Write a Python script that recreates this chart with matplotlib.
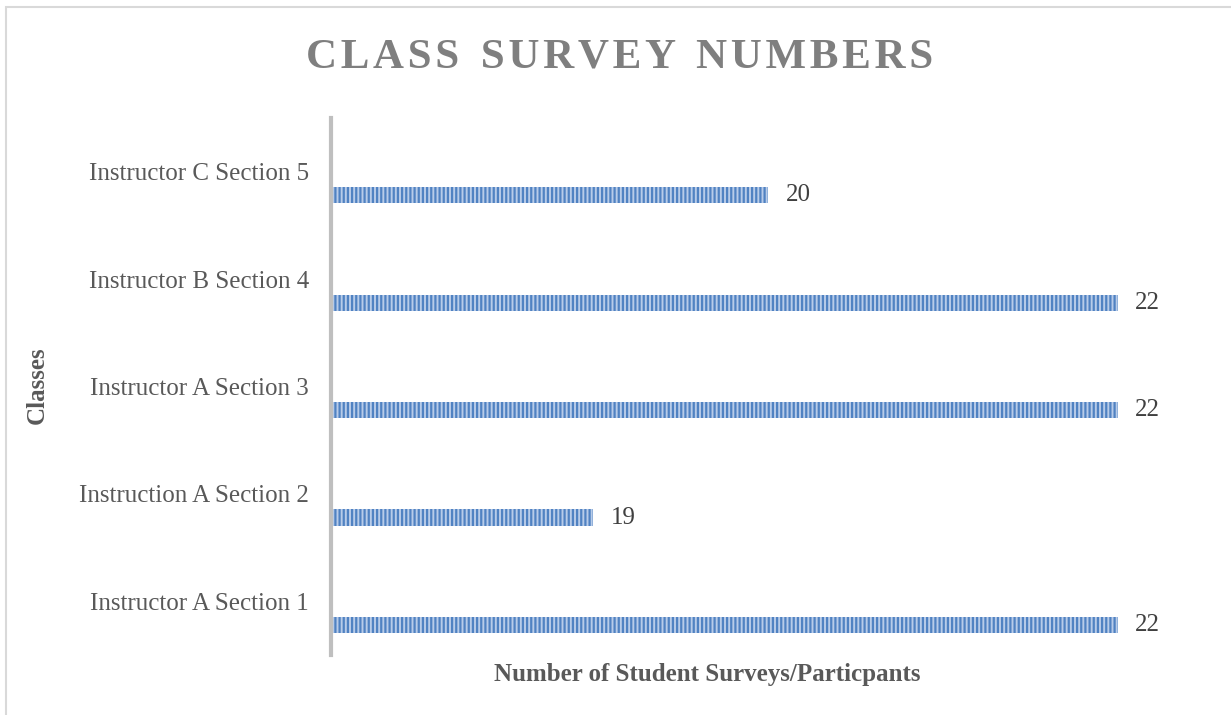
import numpy as np
import matplotlib.pyplot as plt
from matplotlib.patches import Rectangle

classes = ['Instructor A Section 1', 'Instruction A Section 2', 'Instructor A Section 3',
           'Instructor B Section 4', 'Instructor C Section 5']
surveys = [22, 19, 22, 22, 20]

title = 'CLASS SURVEY NUMBERS'
xlabel = 'Number of Student Surveys/Particpants'
ylabel = 'Classes'

plt.rcParams['font.family'] = ['Liberation Serif', 'DejaVu Serif']
plt.rcParams['hatch.linewidth'] = 1.6

fig = plt.figure(figsize=(12.31, 7.15), dpi=100)

# light grey frame round the chart
fig.patches.append(Rectangle((6 / 1231, -0.1), 1.2, 1.1 - 7 / 715, transform=fig.transFigure,
                             fill=False, edgecolor='#d9d9d9', linewidth=1.5))

ax = fig.add_axes([331 / 1231, 1 - 655 / 715, (1205 - 331) / 1231, (655 - 118) / 715])

pos = np.arange(len(classes))
bars = ax.barh(pos - 0.22, np.array(surveys) - 17.5, left=17.5, height=0.15,
               color='#b8cce9', edgecolor='#5082c2', hatch='||||', linewidth=0)

for b, v in zip(bars, surveys):
    ax.text(v + 0.1, b.get_y() + b.get_height() / 2, str(v), va='center', ha='left',
            fontsize=18, color='#404040')

ax.set_xlim(17.5, 22.5)
ax.set_ylim(-0.5, 4.5)
ax.set_yticks(pos)
ax.set_yticklabels(classes, fontsize=18, color='#595959')
ax.tick_params(axis='y', length=0, pad=16)
ax.set_xticks([])
for s in ['top', 'right', 'bottom']:
    ax.spines[s].set_visible(False)
ax.spines['left'].set_color('#bfbfbf')
ax.spines['left'].set_linewidth(3)

fig.text(707 / 1231, 1 - 675 / 715, xlabel, ha='center', va='center', fontsize=18,
         fontweight='bold', color='#595959')
fig.text(37 / 1231, 1 - 385 / 715, ylabel, ha='center', va='center', rotation=90,
         fontsize=18, fontweight='bold', color='#595959')

fig.text(620 / 1231, 1 - 57 / 715, '\u200a'.join(title).replace('\u200a \u200a', '  '),
         ha='center', va='center', fontsize=31, fontweight='bold', color='#7f7f7f')

fig.savefig('out.png', dpi=100)
